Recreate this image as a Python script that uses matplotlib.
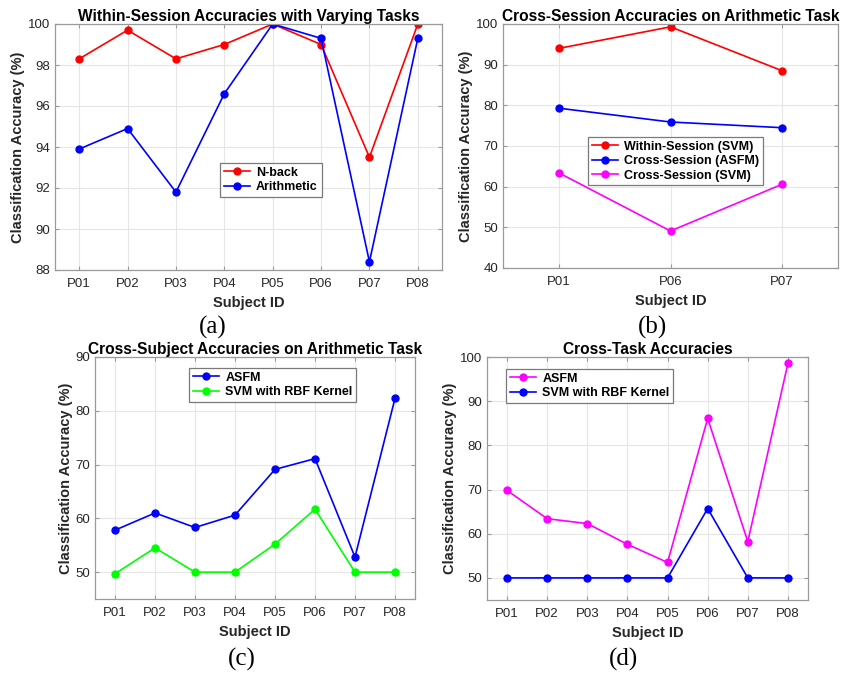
import matplotlib
matplotlib.use("Agg")
import matplotlib.pyplot as plt

plt.rcParams['font.family'] = ['Liberation Sans', 'DejaVu Sans']

subjects = ['P01', 'P02', 'P03', 'P04', 'P05', 'P06', 'P07', 'P08']
subjects_b = ['P01', 'P06', 'P07']

# (a) within-session
nback = [98.3, 99.7, 98.3, 99.0, 100.0, 99.0, 93.5, 100.0]
arith = [93.9, 94.9, 91.8, 96.6, 100.0, 99.3, 88.4, 99.3]

# (b) cross-session on arithmetic task
within_svm = [94.0, 99.3, 88.5]
cross_asfm = [79.3, 75.9, 74.5]
cross_svm = [63.4, 49.1, 60.6]

# (c) cross-subject on arithmetic task
cs_asfm = [57.8, 61.0, 58.3, 60.6, 69.1, 71.1, 52.8, 82.3]
cs_svm = [49.7, 54.5, 50.0, 50.0, 55.2, 61.7, 50.0, 50.0]

# (d) cross-task
ct_asfm = [69.8, 63.4, 62.3, 57.6, 53.5, 86.1, 58.2, 98.6]
ct_svm = [50.0, 50.0, 50.0, 50.0, 50.0, 65.7, 50.0, 50.0]

W, H = 855, 675
fig = plt.figure(figsize=(W / 100, H / 100), dpi=100)


def make_axes(l, t, r, b):
    # pixel box -> figure fraction
    return fig.add_axes([l / W, 1 - b / H, (r - l) / W, (b - t) / H])


def style(ax, labels, ylim, yticks, title):
    n = len(labels)
    ax.set_xlim(0.5, n + 0.5)
    ax.set_xticks(range(1, n + 1))
    ax.set_xticklabels(labels)
    ax.set_ylim(*ylim)
    ax.set_yticks(yticks)
    ax.grid(True, color='#e6e6e6', linewidth=0.8)
    ax.set_axisbelow(True)
    for s in ax.spines.values():
        s.set_color('#9a9a9a')
        s.set_linewidth(0.9)
    ax.tick_params(direction='in', length=3, colors='#9a9a9a', labelcolor='#262626',
                   labelsize=9.5, top=True, right=True)
    ax.tick_params(axis='x', pad=6)
    ax.set_xlabel('Subject ID', fontsize=10.5, fontweight='bold', color='#262626', labelpad=4)
    ax.set_ylabel('Classification Accuracy (%)', fontsize=10.5, fontweight='bold',
                  color='#262626', labelpad=2)
    ax.set_title(title, fontsize=11.2, fontweight='bold', pad=2)


def legend(ax, x, y):
    leg = ax.legend(loc='upper left', bbox_to_anchor=(x, y), fancybox=False,
                    prop={'weight': 'bold', 'size': 9}, borderpad=0.3,
                    labelspacing=0.2, handlelength=2.1, handletextpad=0.5,
                    borderaxespad=0)
    leg.get_frame().set_edgecolor('#7a7a7a')
    leg.get_frame().set_linewidth(0.9)
    leg.get_frame().set_alpha(1)


mk = dict(marker='o', markersize=5, linewidth=1.2)
xs = range(1, 9)
xb = range(1, 4)

ax = make_axes(55, 24, 442, 270)
ax.plot(xs, nback, color='#ff0000', label='N-back', **mk)
ax.plot(xs, arith, color='#0000ff', label='Arithmetic', **mk)
style(ax, subjects, (88, 100), range(88, 101, 2), 'Within-Session Accuracies with Varying Tasks')
legend(ax, 0.426, 0.435)

ax = make_axes(503, 24, 838, 268)
ax.plot(xb, within_svm, color='#ff0000', label='Within-Session (SVM)', **mk)
ax.plot(xb, cross_asfm, color='#0000ff', label='Cross-Session (ASFM)', **mk)
ax.plot(xb, cross_svm, color='#ff00ff', label='Cross-Session (SVM)', **mk)
style(ax, subjects_b, (40, 100), range(40, 101, 10), 'Cross-Session Accuracies on Arithmetic Task')
legend(ax, 0.254, 0.537)

ax = make_axes(95, 357, 415, 599)
ax.plot(xs, cs_asfm, color='#0000ff', label='ASFM', **mk)
ax.plot(xs, cs_svm, color='#00ff00', label='SVM with RBF Kernel', **mk)
style(ax, subjects, (45, 90), range(50, 91, 10), 'Cross-Subject Accuracies on Arithmetic Task')
legend(ax, 0.294, 0.955)

ax = make_axes(487, 357, 808, 600)
ax.plot(xs, ct_asfm, color='#ff00ff', label='ASFM', **mk)
ax.plot(xs, ct_svm, color='#0000ff', label='SVM with RBF Kernel', **mk)
style(ax, subjects, (45, 100), range(50, 101, 10), 'Cross-Task Accuracies')
legend(ax, 0.059, 0.951)

cap = dict(family='Liberation Serif', fontsize=18, ha='center', va='center')
fig.text(213 / W, 1 - 327 / H, '(a)', **cap)
fig.text(652 / W, 1 - 327 / H, '(b)', **cap)
fig.text(242 / W, 1 - 659 / H, '(c)', **cap)
fig.text(623 / W, 1 - 659 / H, '(d)', **cap)

fig.savefig('out.png', dpi=100)
